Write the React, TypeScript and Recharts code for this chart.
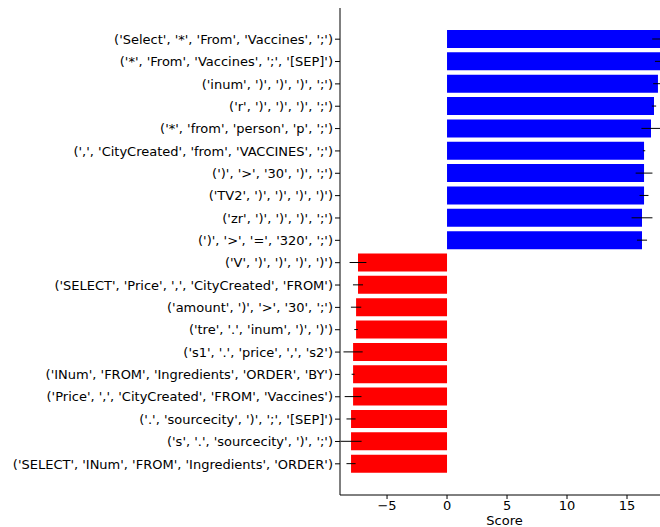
import React from 'react';
import { BarChart, Bar, XAxis, YAxis, Cell, ErrorBar } from 'recharts';

const labels: string[] = [
  "('Select', '*', 'From', 'Vaccines', ';')",
  "('*', 'From', 'Vaccines', ';', '[SEP]')",
  "('inum', ')', ')', ')', ';')",
  "('r', ')', ')', ')', ';')",
  "('*', 'from', 'person', 'p', ';')",
  "(',', 'CityCreated', 'from', 'VACCINES', ';')",
  "(')', '>', '30', ')', ';')",
  "('TV2', ')', ')', ')', ')')",
  "('zr', ')', ')', ')', ';')",
  "(')', '>', '=', '320', ';')",
  "('V', ')', ')', ')', ')')",
  "('SELECT', 'Price', ',', 'CityCreated', 'FROM')",
  "('amount', ')', '>', '30', ';')",
  "('tre', '.', 'inum', ')', ')')",
  "('s1', '.', 'price', ',', 's2')",
  "('INum', 'FROM', 'Ingredients', 'ORDER', 'BY')",
  "('Price', ',', 'CityCreated', 'FROM', 'Vaccines')",
  "('.', 'sourcecity', ')', ';', '[SEP]')",
  "('s', '.', 'sourcecity', ')', ';')",
  "('SELECT', 'INum', 'FROM', 'Ingredients', 'ORDER')",
];

const scores: number[] = [
  18.0, 17.9, 17.58, 17.25, 17.0, 16.42, 16.42, 16.42, 16.25, 16.25,
  -7.42, -7.42, -7.58, -7.58, -7.83, -7.83, -7.83, -8.0, -8.0, -8.0,
];

const errors: number[] = [
  0.9, 0.57, 0.4, 0.18, 0.8, 0.1, 0.7, 0.37, 0.87, 0.42,
  0.7, 0.42, 0.43, 0.15, 0.8, 0.12, 0.7, 0.38, 0.88, 0.38,
];

const xTicks: number[] = [-5, 0, 5, 10, 15];

const data = labels.map((label, i) => ({ label, score: scores[i], err: errors[i] }));

const font = "'DejaVu Sans', sans-serif";
const fs = 13;

const YTick = (props: any) => {
  const { x, y, payload } = props;
  return (
    <text x={x} y={y} dy="0.36em" textAnchor="end" fontFamily={font} fontSize={fs} fill="#000">
      {payload.value}
    </text>
  );
};

export default function App() {
  return (
    <div style={{ position: 'absolute', left: 0, top: 0, width: 660, height: 527, overflow: 'hidden', background: '#fff' }}>
      <BarChart
        width={669}
        height={527}
        data={data}
        layout="vertical"
        margin={{ top: 8, right: 0, bottom: 0, left: 8 }}
        barCategoryGap="10%"
      >
        <XAxis
          xAxisId="top"
          orientation="top"
          type="number"
          domain={[-8.92, 18.5]}
          allowDataOverflow
          height={0}
          tick={false}
          tickLine={false}
          axisLine={{ stroke: '#000', strokeWidth: 1 }}
        />
        <XAxis
          type="number"
          domain={[-8.92, 18.5]}
          allowDataOverflow
          ticks={xTicks}
          height={32}
          tickSize={4}
          tickMargin={2}
          tickFormatter={(v: number) => String(v).replace('-', '\u2212')}
          tick={{ fontFamily: font, fontSize: fs, fill: '#000' }}
          tickLine={{ stroke: '#000' }}
          axisLine={{ stroke: '#000', strokeWidth: 1 }}
          label={{ value: 'Score', position: 'insideBottom', offset: 2, fontFamily: font, fontSize: fs, fill: '#000' }}
        />
        <YAxis
          type="category"
          dataKey="label"
          width={332}
          interval={0}
          padding={{ top: 20, bottom: 20 }}
          tickSize={5}
          tickMargin={2}
          tick={<YTick />}
          tickLine={{ stroke: '#000' }}
          axisLine={{ stroke: '#000', strokeWidth: 1 }}
        />
        <Bar dataKey="score" barSize={18} isAnimationActive={false}>
          {data.map((d, i) => (
            <Cell key={i} fill={d.score >= 0 ? '#0000ff' : '#ff0000'} />
          ))}
          <ErrorBar dataKey="err" direction="x" width={0} stroke="#000" strokeWidth={1} />
        </Bar>
      </BarChart>
    </div>
  );
}
